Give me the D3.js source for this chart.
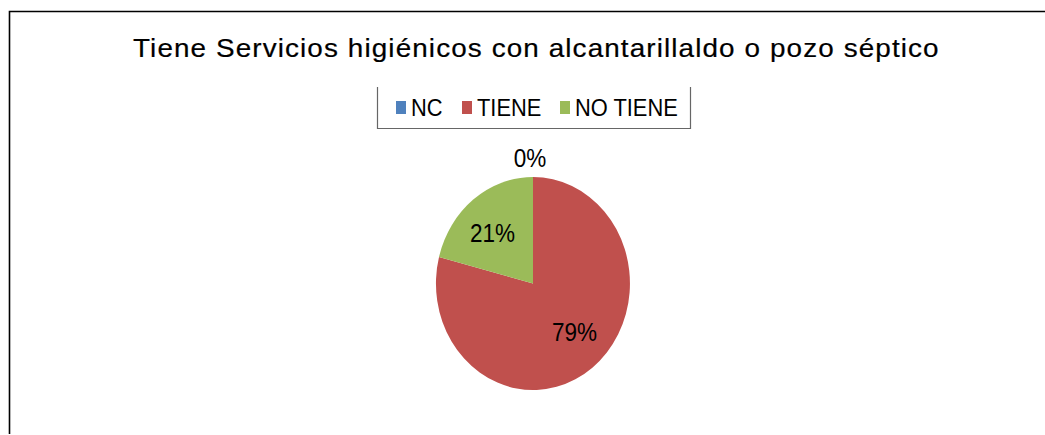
<!DOCTYPE html>
<html><head><meta charset="utf-8">
<script src="https://cdn.jsdelivr.net/npm/d3@7"></script>
<style>html,body{margin:0;padding:0;background:#fff;}svg{display:block;}</style>
</head><body>
<svg id="c" width="1045" height="435"></svg>
<script>
const title = "Tiene Servicios higiénicos con alcantarillaldo o pozo séptico";
const categories = ["NC", "TIENE", "NO TIENE"];
const values = [0, 79, 21];
const labels = ["0%", "79%", "21%"];
const colors = ["#4F81BD", "#C0504D", "#9BBB59"];

const svg = d3.select("#c");
const font = "'Liberation Sans', Arial, sans-serif";
const sx = 0.93;

// outer border (top and left visible)
svg.append("path").attr("d", "M9.5,434 L9.5,11.5 L1045,11.5")
  .attr("fill", "none").attr("stroke", "#000").attr("stroke-width", 1.6);

// title
const t = svg.append("text")
  .attr("font-family", font).attr("font-size", 25)
  .attr("letter-spacing", 1)
  .attr("fill", "#000").attr("stroke", "#000").attr("stroke-width", 0.2)
  .text(title);
const tw = t.node().getComputedTextLength();
t.attr("transform", `translate(${536.5 - (807 / 2)},57) scale(${807 / tw},1)`);

// legend frame (left, bottom, right)
svg.append("path").attr("d", "M377.5,87 L377.5,128.5 L690.5,128.5 L690.5,87")
  .attr("fill", "none").attr("stroke", "#666").attr("stroke-width", 1.2);

const legX = [396, 462, 560];
const lg = svg.append("g");
categories.forEach((c, i) => {
  lg.append("rect").attr("x", legX[i]).attr("y", 101).attr("width", 10).attr("height", 13)
    .attr("fill", colors[i]);
  lg.append("text").attr("transform", `translate(${legX[i] + 15},115.5) scale(${sx},1)`)
    .attr("font-family", font).attr("font-size", 23.5).attr("fill", "#000").text(c);
});

// pie
const cx = 533, cy = 283.5, rx = 97, ry = 106.5;
const pie = d3.pie().sort(null).value(d => d)(values);
const arc = d3.arc().innerRadius(0).outerRadius(1);
const pg = svg.append("g").attr("transform", `translate(${cx},${cy}) scale(${rx},${ry})`);
pg.selectAll("path").data(pie).join("path")
  .attr("d", arc).attr("fill", (d, i) => colors[i]);

const labArc = d3.arc().innerRadius(0).outerRadius(1.26);
const outArc = d3.arc().innerRadius(1.18).outerRadius(1.18);
const nudgeX = [-3, 4, -3], nudgeY = [9, 4, 12];
pie.forEach((d, i) => {
  const c = (d.value === 0 ? outArc : labArc).centroid(d);
  svg.append("text")
    .attr("transform", `translate(${cx + c[0] * rx + nudgeX[i]},${cy + c[1] * ry + nudgeY[i]}) scale(0.9,1)`)
    .attr("text-anchor", "middle").attr("font-family", font).attr("font-size", 25)
    .attr("fill", "#000").text(labels[i]);
});
</script>
</body></html>
